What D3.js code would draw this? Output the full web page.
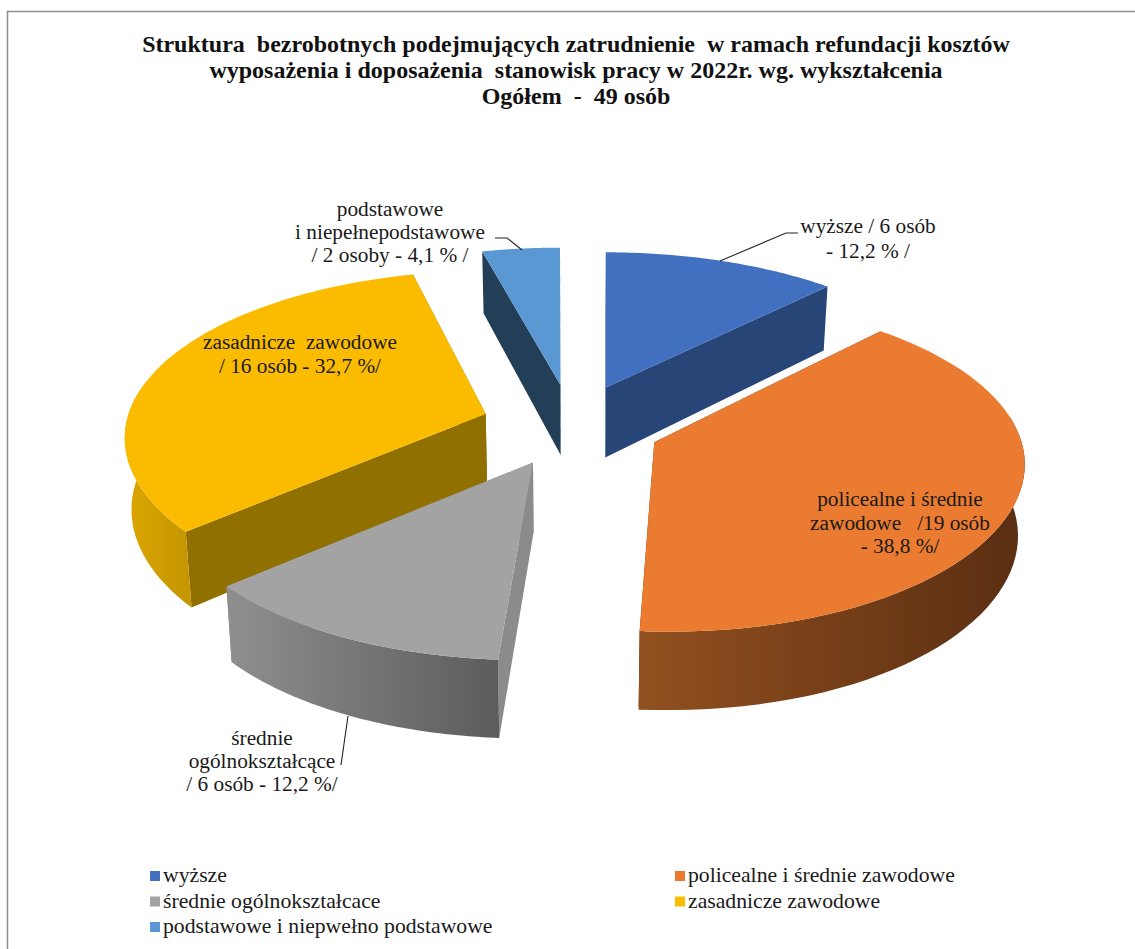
<!DOCTYPE html>
<html>
<head>
<meta charset="utf-8">
<script src="https://cdn.jsdelivr.net/npm/d3@7"></script>
<style>
  html, body { margin: 0; padding: 0; background: #fff; }
  svg { display: block; }
</style>
</head>
<body>
<svg id="chart"></svg>
<script>
// === Data ===
const categories = ["wyższe", "policealne i średnie zawodowe", "średnie ogólnokształcace", "zasadnicze zawodowe", "podstawowe i niepwełno podstawowe"];
const osoby = [6, 19, 6, 16, 2];
const titleLines = [
  "Struktura  bezrobotnych podejmujących zatrudnienie  w ramach refundacji kosztów",
  "wyposażenia i doposażenia  stanowisk pracy w 2022r. wg. wykształcenia",
  "Ogółem  -  49 osób"
];
const sliceLabels = [
  ["wyższe / 6 osób", "- 12,2 % /"],
  ["policealne i średnie", "zawodowe   /19 osób", "- 38,8 %/"],
  ["średnie", "ogólnokształcące", "/ 6 osób - 12,2 %/"],
  ["zasadnicze  zawodowe", "/ 16 osób - 32,7 %/"],
  ["podstawowe", "i niepełnepodstawowe", "/ 2 osoby - 4,1 % /"]
];

const topColors = ["#4070bf", "#ea7b30", "#a3a3a3", "#fbbc00", "#5a98d3"];
const wallColors = ["#284578", "#5e3014", "#8b8b8b", "#907000", "#233f57"];
const rimLeft = ["#284578", "#92501f", "#8f8f8f", "#dba600", "#233f57"];
const rimRight = ["#284578", "#5a2e12", "#5c5c5c", "#c49500", "#233f57"];

const width = 1135;
const height = 949;
const fontFamily = "'Liberation Serif', 'Times New Roman', serif";

const svg = d3.select("#chart").attr("width", width).attr("height", height);

// === Projection of the tilted pie ===
const cx = 572;
const cy = 425.6;
const explodeX = 90;
const explodeY = 41;
const perspective = 0.18;
const depth = 70;
const shrink = 0.015; // lower face is slightly narrower

const radiusX = d3.scaleLinear().domain([-1, 1]).range([-360, 360]);
const radiusY = d3.scaleLinear().domain([-1, 1]).range([-162, 162]);

// small per slice corrections of the rim, the source chart is not a clean projection
const rimShiftX = [0, 4.5, -2.5, 5, -0.5];
const rimShiftY = [2, -8, 0, -6, 0];

const pie = d3.pie().sort(null).value(d => d);
const arcs = pie(osoby);

const apexOf = (d) => {
  const mid = (d.startAngle + d.endAngle) / 2;
  return { x: cx + explodeX * Math.sin(mid), y: cy - explodeY * Math.cos(mid) };
};

const project = (apex, angle, r, lower, i) => {
  const ux = r * Math.sin(angle);
  const uy = -r * Math.cos(angle);
  const s = 1 / (1 - perspective * uy);
  // only the part nearest the viewer converges on the pie centre
  const converge = 0.5 * (apex.x - cx) * (s - 1) * Math.pow(Math.max(0, uy), 3);
  let x = apex.x + radiusX(ux) * s + converge + rimShiftX[i] * r;
  let y = apex.y + radiusY(uy) * s + rimShiftY[i] * r;
  if (lower) {
    x += (cx - x) * shrink;
    y += depth * (1 + 0.12 * uy);
  }
  return [x, y];
};

const line = d3.line();
const defs = svg.append("defs");

// chart frame
svg.append("path")
  .attr("d", "M7.5,949V11.5H1135")
  .attr("fill", "none")
  .attr("stroke", "#8c8c8c")
  .attr("stroke-width", 1.5);

// === Slices, back to front ===
const drawOrder = [4, 0, 3, 1, 2];
const pieGroup = svg.append("g");

drawOrder.forEach((i) => {
  const d = arcs[i];
  const apex = apexOf(d);
  const g = pieGroup.append("g");
  const angles = d3.range(0, 61).map(t => d.startAngle + (d.endAngle - d.startAngle) * t / 60);

  const grad = defs.append("linearGradient").attr("id", `rim${i}`);
  grad.append("stop").attr("offset", "0%").attr("stop-color", rimLeft[i]);
  grad.append("stop").attr("offset", "100%").attr("stop-color", rimRight[i]);

  // radial walls
  [d.startAngle, d.endAngle].forEach((a) => {
    const wall = [
      project(apex, a, 0, false, i),
      project(apex, a, 1, false, i),
      project(apex, a, 1, true, i),
      project(apex, a, 0, true, i)
    ];
    g.append("path").attr("d", line(wall) + "Z").attr("fill", wallColors[i]);
  });

  // outer wall, front part only
  const front = angles.filter(a => Math.cos(a) < 0.12);
  if (front.length > 1) {
    const rim = front.map(a => project(apex, a, 1, false, i))
      .concat(front.slice().reverse().map(a => project(apex, a, 1, true, i)));
    g.append("path").attr("d", line(rim) + "Z").attr("fill", `url(#rim${i})`);
  }

  // top face
  const top = [project(apex, 0, 0, false, i)].concat(angles.map(a => project(apex, a, 1, false, i)));
  g.append("path").attr("d", line(top) + "Z").attr("fill", topColors[i]);
});

// === Leader lines ===
const leaders = [
  [[720, 261], [786, 233], [798, 233]],
  [[495, 238], [507, 238], [522, 250]],
  [[348, 716], [341, 765]]
];
svg.append("g").selectAll("path").data(leaders).join("path")
  .attr("d", d => line(d))
  .attr("fill", "none")
  .attr("stroke", "#222")
  .attr("stroke-width", 1.1);

// === Slice labels ===
const labelAnchors = [
  { x: 868, y: 233, dy: 25 },
  { x: 900, y: 506, dy: 23.5 },
  { x: 262, y: 745, dy: 23 },
  { x: 300, y: 349, dy: 24 },
  { x: 390, y: 216, dy: 23 }
];
sliceLabels.forEach((lines, i) => {
  const a = labelAnchors[i];
  svg.append("text")
    .attr("text-anchor", "middle")
    .attr("font-family", fontFamily)
    .attr("font-size", 21.3)
    .attr("fill", "#1a1a1a")
    .style("white-space", "pre")
    .selectAll("tspan").data(lines).join("tspan")
    .attr("x", a.x)
    .attr("y", (t, j) => a.y + j * a.dy)
    .text(t => t);
});

// === Title ===
svg.append("text")
  .attr("text-anchor", "middle")
  .attr("font-family", fontFamily)
  .attr("font-size", 24)
  .attr("font-weight", "bold")
  .attr("fill", "#111")
  .style("white-space", "pre")
  .selectAll("tspan").data(titleLines).join("tspan")
  .attr("x", 576)
  .attr("y", (t, j) => 52 + j * 26)
  .text(t => t);

// === Legend ===
const legendX = d3.scaleOrdinal().domain([0, 1]).range([150, 675]);
const legendY = d3.scaleLinear().domain([0, 2]).range([876, 927]);
const legend = svg.append("g").selectAll("g").data(categories).join("g")
  .attr("transform", (d, i) => `translate(${legendX(i % 2)},${legendY(Math.floor(i / 2))})`);
legend.append("rect")
  .attr("x", 0).attr("y", -5).attr("width", 10).attr("height", 10)
  .attr("fill", (d, i) => topColors[i]);
legend.append("text")
  .attr("x", 13).attr("y", 6)
  .attr("font-family", fontFamily)
  .attr("font-size", 21.7)
  .attr("fill", "#1a1a1a")
  .text(d => d);
</script>
</body>
</html>
